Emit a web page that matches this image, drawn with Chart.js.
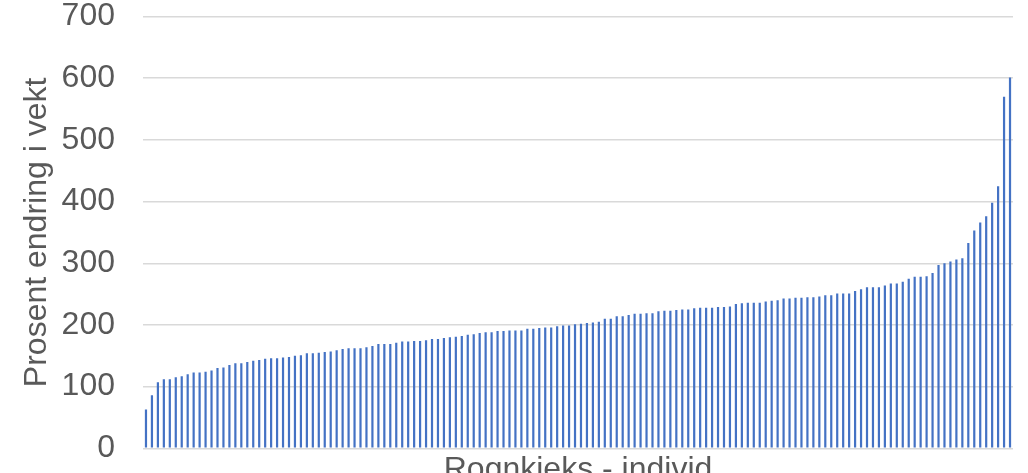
<!DOCTYPE html>
<html>
<head>
<meta charset="utf-8">
<script src="https://cdn.jsdelivr.net/npm/chart.js@4.4.1/dist/chart.umd.min.js"></script>
<style>
  html, body { margin: 0; padding: 0; background: #fff; }
  #chart { display: block; }
</style>
</head>
<body>
<canvas id="chart" width="1028" height="473"></canvas>
<script>
// verdier lest av bildet, sortert stigende
const values = [
  63, 86, 107, 112, 112, 115, 117, 120, 123, 123,
  124, 126, 130, 131, 135, 138, 138, 140, 142, 143,
  145, 146, 146, 147, 148, 150, 151, 154, 154, 155,
  156, 157, 159, 161, 162, 162, 162, 164, 166, 169,
  169, 169, 171, 173, 173, 174, 174, 175, 177, 177,
  179, 180, 181, 182, 184, 185, 187, 188, 188, 190,
  190, 191, 191, 191, 194, 194, 195, 196, 196, 198,
  199, 199, 201, 202, 203, 204, 205, 210, 210, 214,
  214, 216, 218, 218, 219, 219, 222, 223, 223, 224,
  225, 225, 227, 228, 228, 228, 229, 229, 230, 234,
  235, 236, 236, 236, 238, 239, 240, 243, 243, 244,
  244, 245, 245, 246, 248, 248, 251, 251, 251, 255,
  258, 261, 261, 261, 264, 267, 267, 270, 275, 278,
  278, 279, 284, 297, 300, 303, 306, 308, 333, 353,
  366, 376, 398, 425, 570, 601
];
const labels = values.map((_, i) => String(i + 1));
const yTicks = [0, 100, 200, 300, 400, 500, 600, 700];

const xTitle = 'Rognkjeks - individ';
const yTitle = 'Prosent endring i vekt';

const fontFamily = '"Liberation Sans", Arial, sans-serif';
const textColor = '#595959';

new Chart(document.getElementById('chart'), {
  type: 'bar',
  data: {
    labels,
    datasets: [
      {
        data: values,
        backgroundColor: '#4472C4',
        borderWidth: 0,
        barPercentage: 0.37,
        categoryPercentage: 1,
      },
    ],
  },
  options: {
    responsive: false,
    animation: false,
    layout: {
      padding: { top: 16.5, right: 15, bottom: 0, left: 0 },
    },
    plugins: {
      legend: { display: false },
      tooltip: { enabled: false },
    },
    scales: {
      x: {
        grid: { display: false },
        border: { display: false },
        ticks: { display: false },
        title: {
          display: true,
          text: xTitle,
          color: textColor,
          padding: 0,
          font: { family: fontFamily, size: 32, lineHeight: 0.2 },
        },
        afterFit: (scale) => {
          scale.height = 24.7;
        },
      },
      y: {
        min: 0,
        max: 700,
        afterBuildTicks: (scale) => {
          scale.ticks = yTicks.map((v) => ({ value: v }));
        },
        grid: {
          color: '#d9d9d9',
          lineWidth: 1.4,
          drawTicks: false,
        },
        border: { display: false },
        ticks: {
          padding: 28,
          color: textColor,
          font: { family: fontFamily, size: 32, lineHeight: 1 },
        },
        title: {
          display: true,
          text: yTitle,
          color: textColor,
          padding: { top: 18, bottom: 0 },
          font: { family: fontFamily, size: 32 },
        },
        afterFit: (scale) => {
          scale.width = 143;
          scale.paddingTop = 0;
          scale.paddingBottom = 0;
        },
      },
    },
  },
});
</script>
</body>
</html>
